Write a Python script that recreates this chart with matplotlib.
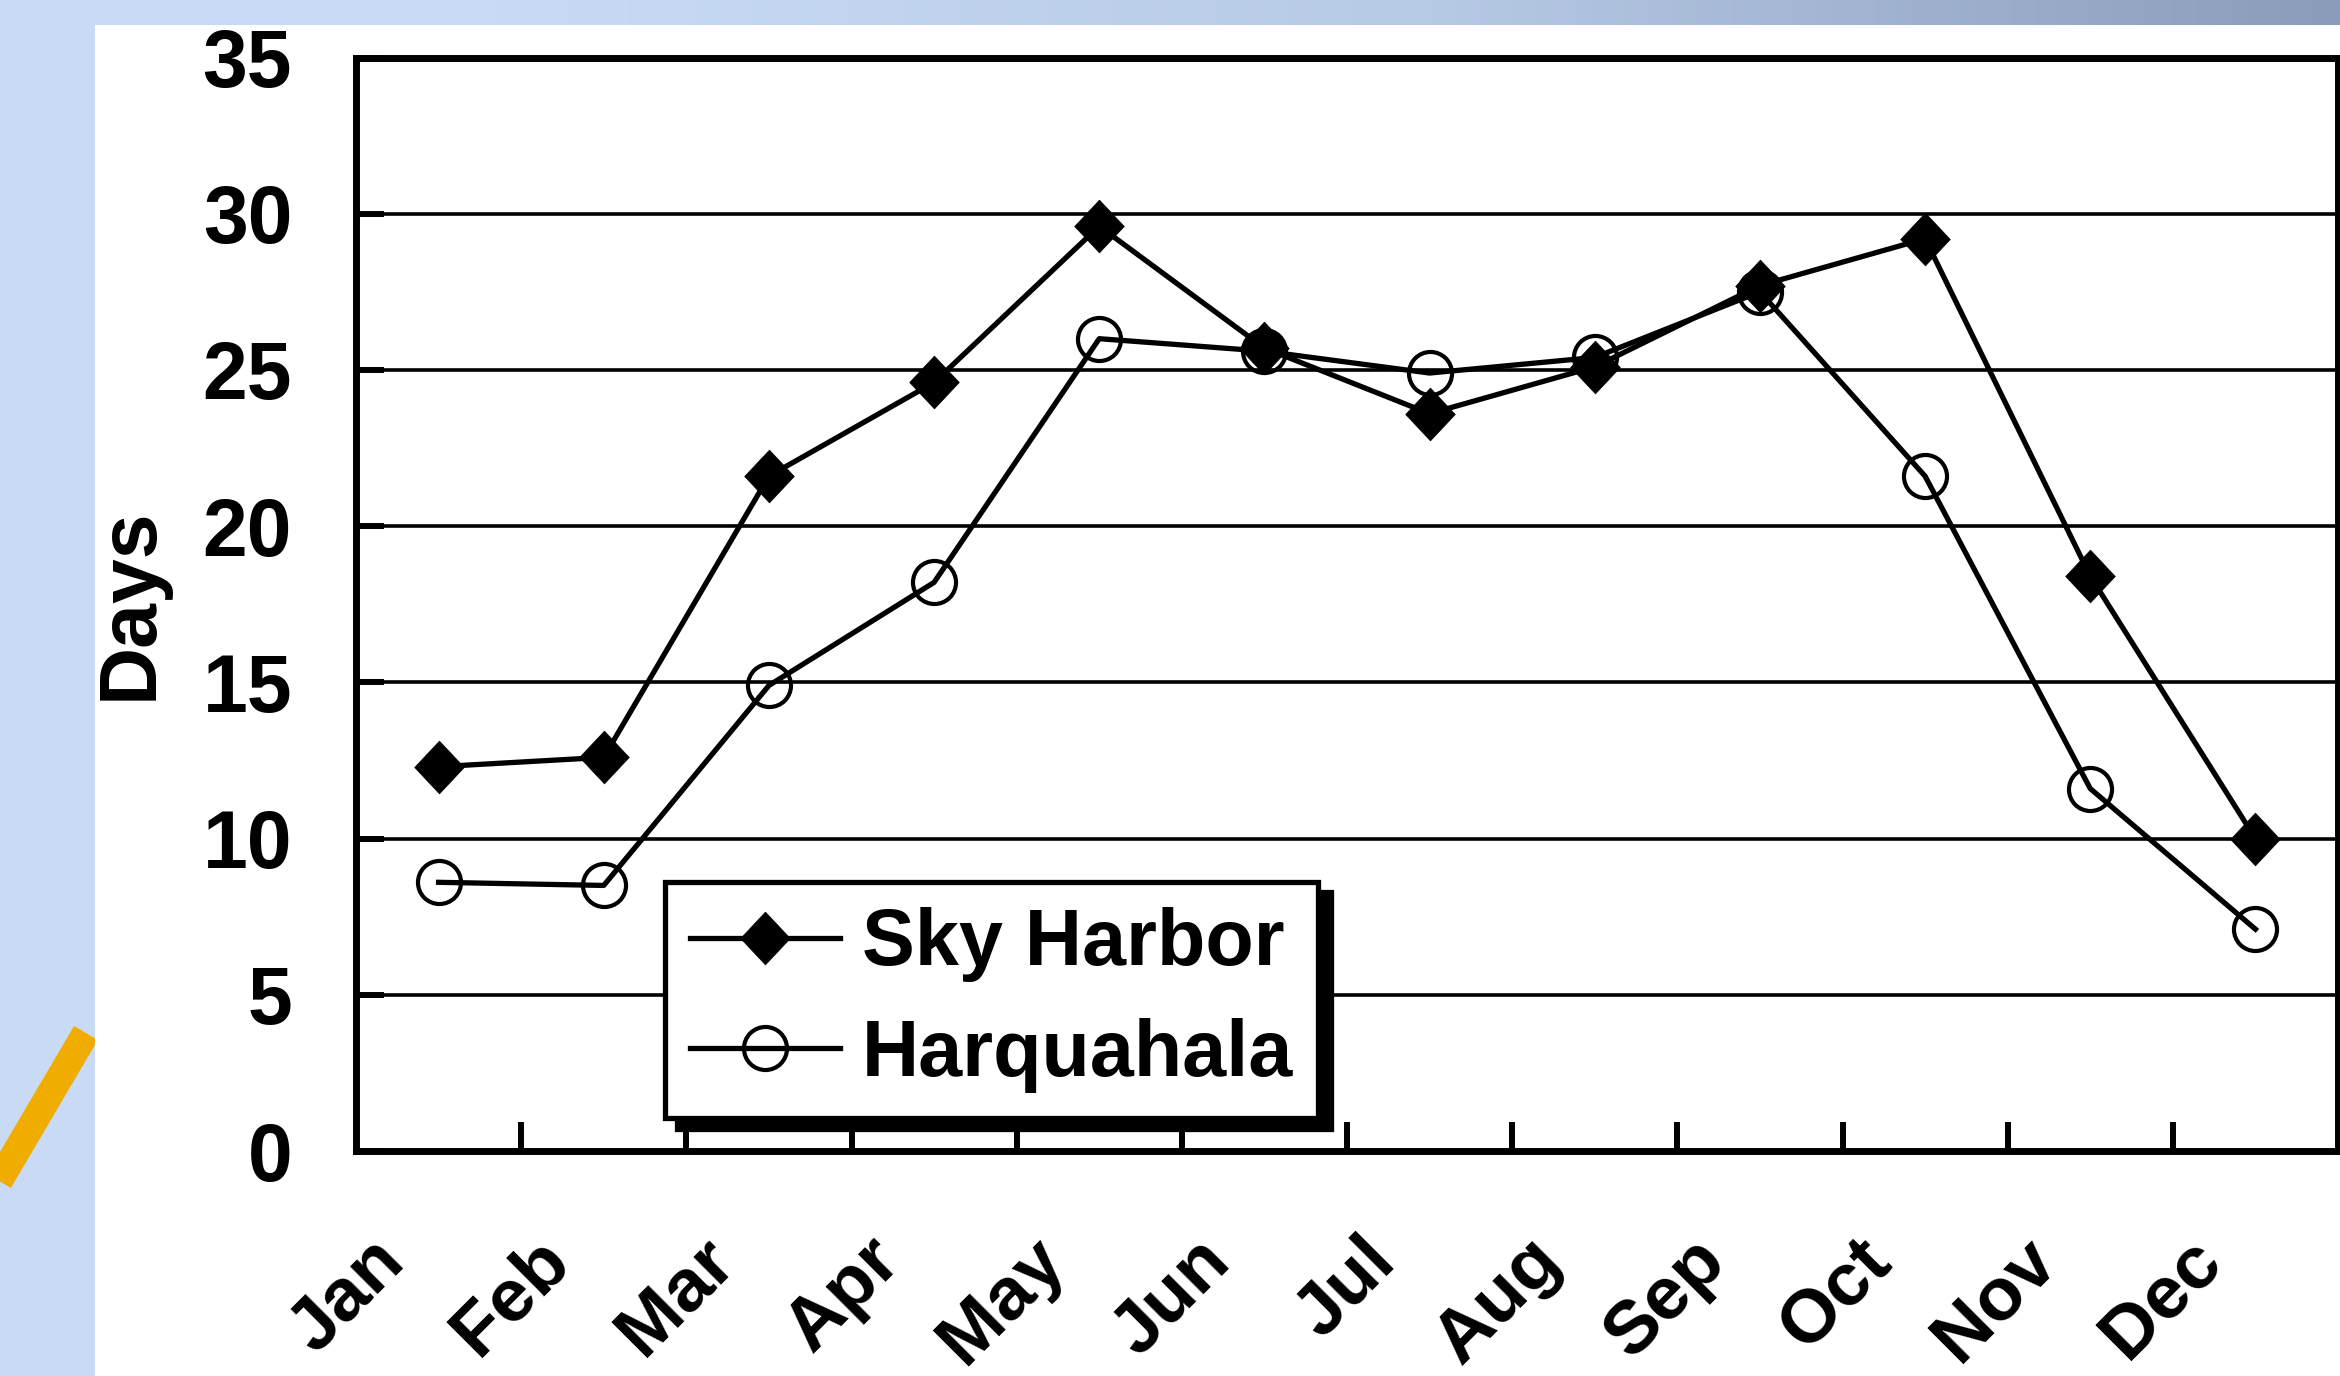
import numpy as np
import matplotlib
matplotlib.use("Agg")
import matplotlib.pyplot as plt
from matplotlib.patches import Rectangle
from matplotlib.lines import Line2D
from matplotlib.transforms import blended_transform_factory, ScaledTranslation
from matplotlib.colors import LinearSegmentedColormap

# ---- data ----
months = ["Jan", "Feb", "Mar", "Apr", "May", "Jun", "Jul", "Aug", "Sep", "Oct", "Nov", "Dec"]
sky_harbor = [12.3, 12.6, 21.6, 24.6, 29.6, 25.7, 23.6, 25.1, 27.7, 29.2, 18.4, 10.0]
harquahala = [8.6, 8.5, 14.9, 18.2, 26.0, 25.6, 24.9, 25.4, 27.5, 21.6, 11.6, 7.1]
y_ticks = [0, 5, 10, 15, 20, 25, 30, 35]
y_label = "Days"
series_names = ["Sky Harbor", "Harquahala"]

plt.rcParams['font.family'] = ['Liberation Sans', 'DejaVu Sans']
plt.rcParams['font.weight'] = 'bold'

W, H, DPI = 2340, 1376, 100
fig = plt.figure(figsize=(W / DPI, H / DPI), dpi=DPI)
fig.patch.set_facecolor('#C9DBF4')

# white panel
panel_x, band_h = 95, 25
fig.add_artist(Rectangle((panel_x / W, 0), 1 - panel_x / W, (H - band_h) / H,
                         transform=fig.transFigure, facecolor='white',
                         edgecolor='none', zorder=-1))
# orange decorative stripe
x0, y0 = 86, 1033
dx, dy = -0.507, 0.862
t = 230
fig.add_artist(Line2D([x0 / W, (x0 + dx * t) / W], [1 - y0 / H, 1 - (y0 + dy * t) / H],
                      transform=fig.transFigure, color='#F0AD00', lw=27.6 * 72 / DPI,
                      solid_capstyle='butt', zorder=-2))

# top gradient band
bax = fig.add_axes([0, 1 - band_h / H, 1, band_h / H], zorder=3)
gx = np.linspace(0, 1, 600)
gv = np.clip((gx - 0.21) / 0.79, 0, 1)
cmap = LinearSegmentedColormap.from_list('band', ['#C9DBF4', '#B7CAE6', '#8A9CB9'])
bax.imshow(gv[None, :], aspect='auto', cmap=cmap, vmin=0, vmax=1, extent=(0, 1, 0, 1))
bax.set_axis_off()

# main axes
L, R, T, B = 356, 2338, 57.5, 1151
ax = fig.add_axes([L / W, (H - B) / H, (R - L) / W, (B - T) / H])
ax.set_facecolor('white')

n = len(months)
xc = np.arange(n) + 0.5

ax.plot(xc, harquahala, color='black', lw=3.8, marker='o', ms=31,
        mfc='none', mec='black', mew=3.0, zorder=3, label=series_names[1])
diamond = [(0, 1), (0.94, 0), (0, -1), (-0.94, 0), (0, 1)]
ax.plot(xc, sky_harbor, color='black', lw=3.8, marker=diamond, ms=38,
        mfc='black', mec='black', mew=0.5, zorder=4, label=series_names[0])

ax.set_xlim(0, n)
ax.set_ylim(y_ticks[0], y_ticks[-1])
ax.set_yticks(y_ticks)
ax.set_yticklabels([str(v) for v in y_ticks])
ax.set_xticks(np.arange(1, n))
ax.set_xticklabels([])

for yv in y_ticks[1:-1]:
    ax.axhline(yv, color='black', lw=2.6, zorder=1)

ax.tick_params(axis='y', direction='in', length=20, width=4.3, pad=46,
               labelsize=58, left=True, right=False)
ax.tick_params(axis='x', direction='in', length=21, width=4.3, bottom=True, top=False)
for lab in ax.get_yticklabels():
    lab.set_fontweight('bold')
for sp in ax.spines.values():
    sp.set_linewidth(5)
    sp.set_color('black')

ax.set_ylabel(y_label, fontsize=58, fontweight='bold')
ax.yaxis.set_label_coords((169 - L) / (R - L), 0.5)

# month labels
trans = blended_transform_factory(ax.transData, ax.transAxes) + \
    ScaledTranslation(-21 / DPI, -74 / DPI, fig.dpi_scale_trans)
for x, m in zip(xc, months):
    ax.text(x, 0, m, transform=trans, rotation=45, ha='right', va='top',
            fontsize=54, fontweight='bold', clip_on=False)

handles, labels = ax.get_legend_handles_labels()
leg = ax.legend(handles[::-1], labels[::-1], loc='upper left',
                bbox_to_anchor=((664.5 - L) / (R - L), (B - 882) / (B - T)),
                borderaxespad=0, fancybox=False, framealpha=1, edgecolor='black',
                prop={'size': 57, 'weight': 'bold'}, handlelength=1.9,
                handletextpad=0.27, borderpad=0.32, labelspacing=0.45,
                shadow={'ox': 9, 'oy': -7.5, 'facecolor': 'black', 'edgecolor': 'black', 'alpha': 1})
leg.get_frame().set_linewidth(3.8)
leg.set_zorder(6)

fig.savefig('out.png', dpi=DPI, facecolor=fig.get_facecolor())
